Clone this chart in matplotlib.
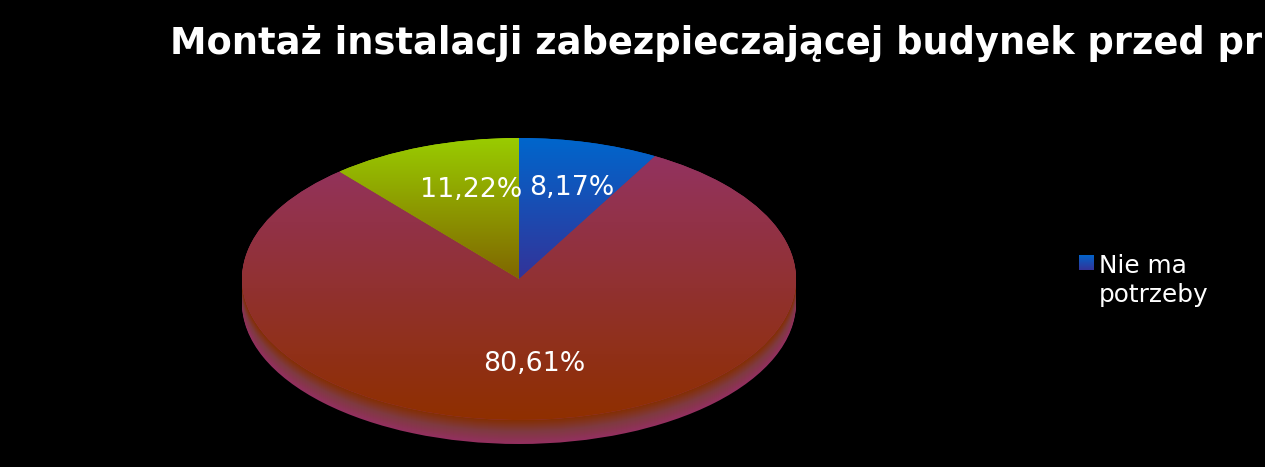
import numpy as np
import matplotlib
matplotlib.use('Agg')
import matplotlib.pyplot as plt
from matplotlib.colors import LinearSegmentedColormap

W, H = 1265, 467

title = 'Montaż instalacji zabezpieczającej budynek przed pr'
categories = ['Nie ma\npotrzeby', 'Tak', 'Nie']
values = [8.17, 80.61, 11.22]
top_colors = ['#0066cc', '#933360', '#99cc00']
bottom_colors = ['#333399', '#8f2f00', '#806600']
label_xy = [(572, 188), (534, 364), (471, 190)]

# pie ellipse in pixels
left, right, top, bottom = 242, 796, 138, 420
depth = 24


def fx(px):
    return px / W


def fy(py):
    return 1 - py / H


def gradient(ax, patch, c1, c2):
    # vertical gradient clipped to the patch
    y0 = patch.get_window_extent().transformed(ax.transData.inverted())
    cmap = LinearSegmentedColormap.from_list('g', [c1, c2])
    im = ax.imshow(np.linspace(0, 1, 256).reshape(-1, 1), cmap=cmap, aspect='auto',
                   extent=(y0.x0, y0.x1, y0.y0, y0.y1), origin='upper', zorder=patch.get_zorder())
    im.set_clip_path(patch)


fig = plt.figure(figsize=(W / 100, H / 100), dpi=100, facecolor='black')
ax = fig.add_axes([fx(left), fy(bottom), fx(right - left), fy(top) - fy(bottom)])
ax.set_facecolor('none')

# side of the disc: stacked ellipses going from purple up to dark brown
side_cmap = LinearSegmentedColormap.from_list('side', ['#93305f', '#7f3a40', '#842e00'])
scale = 2.0 / (bottom - top)
for i, d in enumerate(np.arange(depth, 0, -1)):
    ax.pie([1], center=(0, -d * scale), radius=1, colors=[side_cmap(i / depth)],
           wedgeprops={'linewidth': 0})

wedges, _ = ax.pie(values, startangle=90, counterclock=False, radius=1,
                   colors=top_colors, wedgeprops={'linewidth': 0})
ax.set_aspect('auto')
ax.set_xlim(-1, 1)
ax.set_ylim(-1, 1)
fig.canvas.draw()

for w, c1, c2 in zip(wedges, top_colors, bottom_colors):
    gradient(ax, w, c1, c2)
ax.set_xlim(-1, 1)
ax.set_ylim(-1, 1)
for p in ax.patches:
    p.set_clip_on(False)

for v, (x, y) in zip(values, label_xy):
    fig.text(fx(x), fy(y), f'{v:.2f}%'.replace('.', ','), color='white', fontsize=19.3,
             ha='center', va='center', family='DejaVu Sans')

fig.text(fx(170), fy(54.5), title, color='white', fontsize=26.5, fontweight='bold',
         family='DejaVu Sans', ha='left', va='baseline')

# legend, only the first entry fits
lax = fig.add_axes([fx(1079), fy(270), fx(15), fy(255) - fy(270)])
lax.axis('off')
lax.imshow(np.linspace(0, 1, 64).reshape(-1, 1), aspect='auto',
           cmap=LinearSegmentedColormap.from_list('l', [top_colors[0], bottom_colors[0]]))
fig.text(fx(1099), fy(266), categories[0].split('\n')[0], color='white', fontsize=17.8,
         family='DejaVu Sans', ha='left', va='center')
fig.text(fx(1099), fy(295), categories[0].split('\n')[1], color='white', fontsize=17.8,
         family='DejaVu Sans', ha='left', va='center')

fig.savefig('out.png', dpi=100, facecolor='black')
